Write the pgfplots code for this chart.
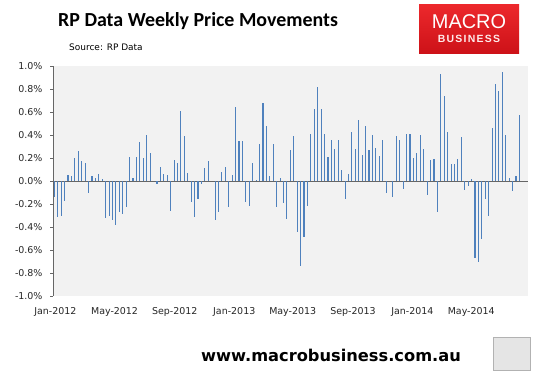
\documentclass[border=0pt]{standalone}
\usepackage{pgfplots}
\pgfplotsset{compat=1.18}
\usepackage{pgfplotstable}
\usepackage{fontspec}
\setmainfont{DejaVu Sans}
\newfontfamily\carlito{Carlito}
\newfontfamily\libsans{Liberation Sans}
\definecolor{barblue}{RGB}{79,129,189}
\definecolor{plotbg}{RGB}{242,242,242}
\definecolor{logored}{RGB}{236,40,44}
\definecolor{logored2}{RGB}{205,18,24}

\pgfplotstableread{
v
-0.14
-0.31
-0.30
-0.17
0.05
0.04
0.20
0.26
0.17
0.16
-0.10
0.04
0.03
0.06
0.02
-0.32
-0.30
-0.34
-0.38
-0.27
-0.29
-0.23
0.21
0.03
0.21
0.34
0.20
0.40
0.24
0
-0.03
0.12
0.06
0.05
-0.26
0.18
0.16
0.61
0.39
0.07
-0.18
-0.31
-0.16
-0.03
0.11
0.17
0
-0.34
-0.27
0.08
0.12
-0.23
0.05
0.64
0.35
0.35
-0.18
-0.22
0.16
0.01
0.32
0.68
0.48
0.04
0.32
-0.23
0.03
-0.19
-0.33
0.27
0.39
-0.44
-0.74
-0.49
-0.22
0.41
0.63
0.82
0.63
0.41
0.21
0.36
0.28
0.36
0.10
-0.16
0.06
0.43
0.28
0.53
0.23
0.48
0.27
0.40
0.29
0.22
0.36
-0.10
0
-0.14
0.39
0.36
-0.07
0.41
0.41
0.20
0.24
0.40
0.28
-0.12
0.18
0.19
-0.27
0.93
0.74
0.43
0.15
0.15
0.19
0.38
-0.08
-0.04
0.02
-0.67
-0.70
-0.50
-0.16
-0.30
0.46
0.84
0.78
0.95
0.40
0.03
-0.09
0.04
0.57
}\weekly

\begin{document}
\begin{tikzpicture}[x=1bp,y=1bp]
\useasboundingbox (0,0) rectangle (542,372);
\fill[white] (0,0) rectangle (542,372);
\begin{axis}[
  at={(53bp,76bp)}, anchor=south west,
  width=475bp, height=230bp, scale only axis,
  xmin=-0.4, xmax=138.5, ymin=-1, ymax=1,
  axis background/.style={fill=plotbg},
  axis lines=left,
  axis line style={-},
  x axis line style={draw=none},
  y axis line style={draw=gray!80!black, line width=0.6bp},
  xtick={0.3,17.6,35.2,52.6,69.7,87.3,104.7,121.9},
  xticklabels={Jan-2012,May-2012,Sep-2012,Jan-2013,May-2013,Sep-2013,Jan-2014,May-2014},
  xtick style={draw=none},
  ytick={-1,-0.8,-0.6,-0.4,-0.2,0,0.2,0.4,0.6,0.8,1},
  ytick style={draw=gray!80!black, line width=0.6bp},
  tick align=outside,
  major tick length=3bp,
  /pgf/number format/assume math mode=true,
  yticklabel={\pgfmathprintnumber[fixed,fixed zerofill,precision=1,assume math mode=true]{\tick}\%},
  tick label style={font=\fontsize{9.5}{11}\selectfont, text=black!85},
  yticklabel style={xshift=-4bp},
  xticklabel style={yshift=-5bp},
  extra y ticks={0},
  extra y tick labels={},
  extra y tick style={grid=major, major grid style={draw=gray!80!black, line width=0.8bp}, major tick length=0pt},
  clip=false,
]
\addplot[ycomb, draw=barblue, line width=1.1bp, mark=none] table[x expr=\coordindex, y=v] {\weekly};
\end{axis}
% title and source
\node[anchor=west, inner sep=0] at (58,351) {\carlito\bfseries\fontsize{20}{24}\selectfont RP Data Weekly Price Movements};
\node[anchor=west, inner sep=0] at (69,325) {\fontsize{9}{11}\selectfont Source: RP Data};
% logo
\shade[top color=logored, bottom color=logored2] (419,319) rectangle (519,367);
\node[text=white, inner sep=0] at (469,350) {\libsans\fontsize{20}{22}\selectfont MACRO};
\node[text=white!92!red, inner sep=0] at (469,333) {\libsans\bfseries\addfontfeatures{LetterSpace=12}\fontsize{10.5}{12}\selectfont BUSINESS};
% footer
\node[inner sep=0] at (331,17) {\bfseries\fontsize{16.3}{19}\selectfont www.macrobusiness.com.au};
\draw[gray!60, fill=gray!20] (493,2) rectangle (530,35);
\end{tikzpicture}
\end{document}
